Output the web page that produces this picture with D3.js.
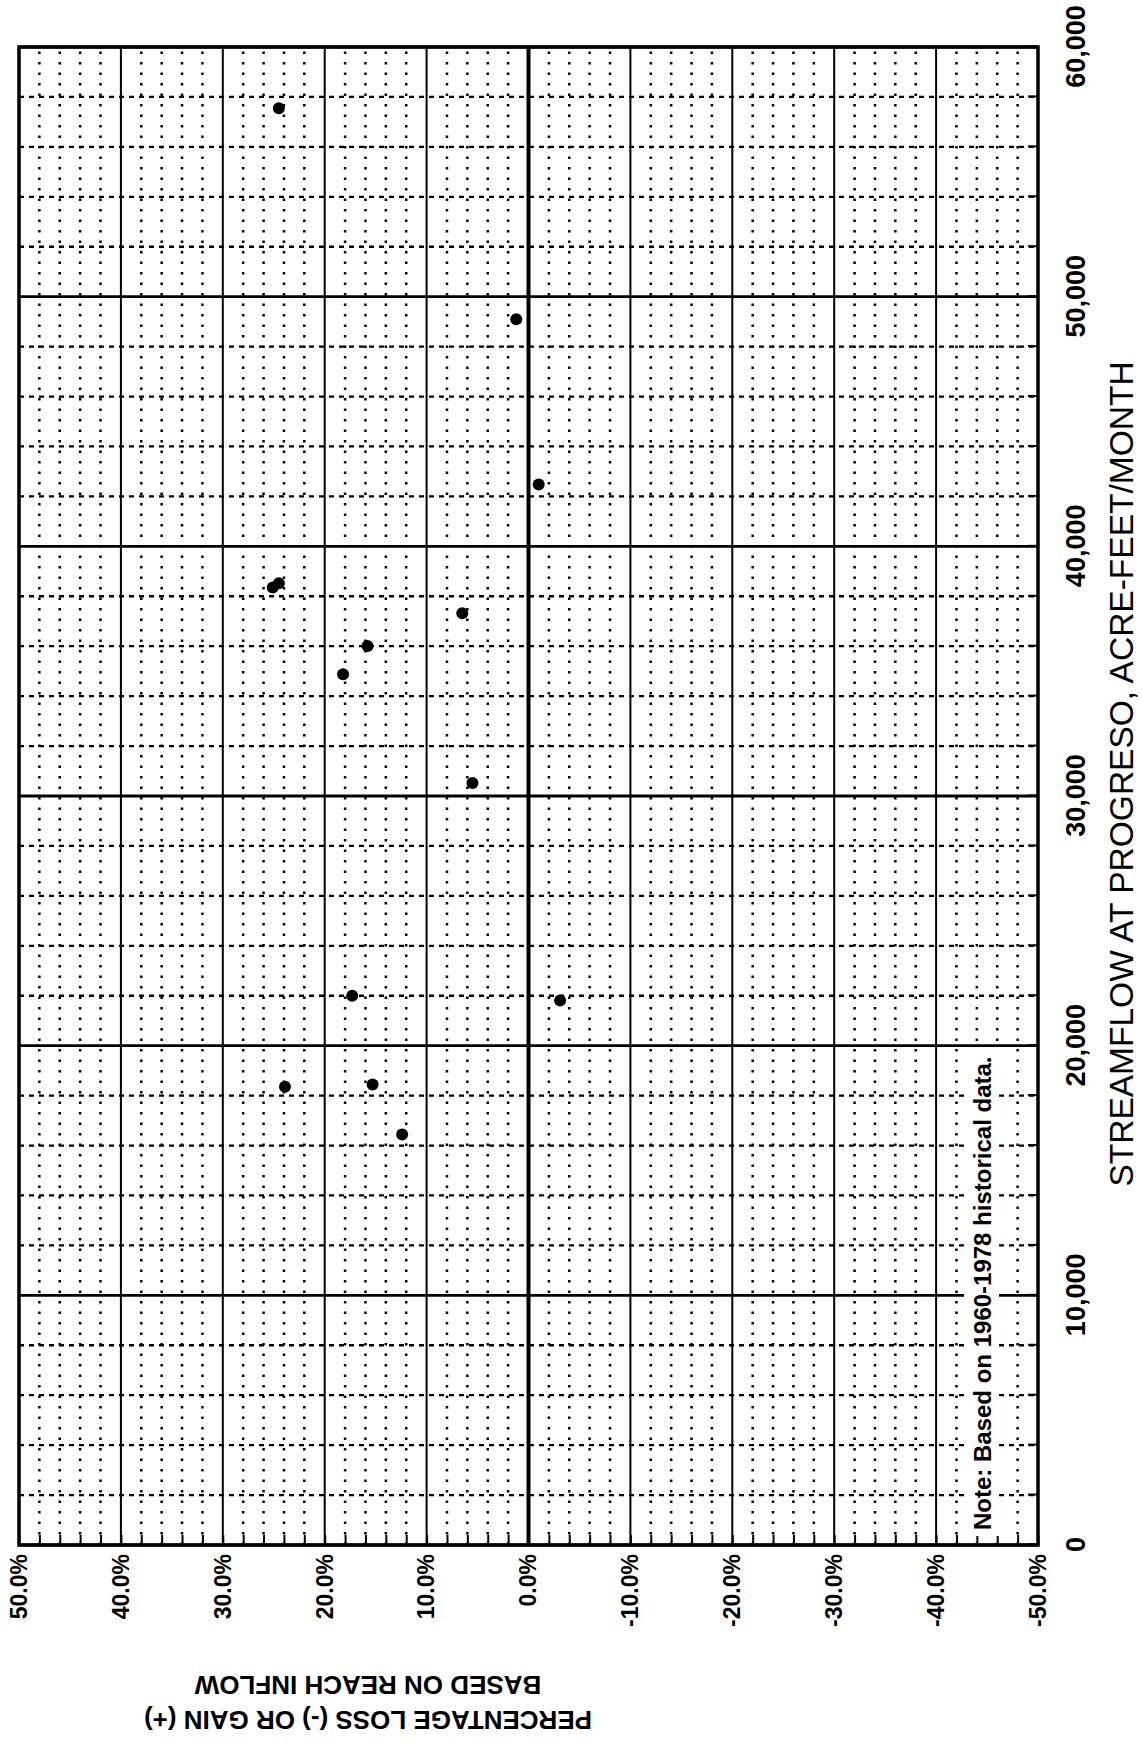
<!DOCTYPE html>
<html>
<head>
<meta charset="utf-8">
<script src="https://cdn.jsdelivr.net/npm/d3@7"></script>
<style>
body { margin: 0; background: #fff; }
svg { display: block; }
text { font-family: "Liberation Sans", Arial, sans-serif; fill: #000; }
</style>
</head>
<body>
<svg id="chart" width="1142" height="1753"></svg>
<script>
// streamflow at Progreso (acre-feet/month) and percent loss/gain, 1960-1978
var flows = [57550, 49100, 42480, 38350, 38520, 37320, 36010, 34880, 30520, 22000, 21810, 18350, 18440, 16440];
var pcts  = [24.5, 1.2, -1.0, 25.1, 24.5, 6.5, 15.8, 18.2, 5.5, 17.3, -3.1, 23.9, 15.3, 12.4];

var flowTicks = [0, 10000, 20000, 30000, 40000, 50000, 60000];
var pctTicks = [50, 40, 30, 20, 10, 0, -10, -20, -30, -40, -50];
var flowMinor = d3.range(0, 60001, 2000);
var pctMinor = d3.range(-50, 51, 2);

var W = 1142, H = 1753;
var svg = d3.select("#chart");

// the sheet was scanned turned a quarter turn, so draw it upright and rotate
var g = svg.append("g").attr("transform", "translate(0," + H + ") rotate(-90)");

var pLeft = 208, pRight = 1706, pTop = 19, pBottom = 1038;
var x = d3.scaleLinear().domain([0, 60000]).range([pLeft, pRight]);
var y = d3.scaleLinear().domain([-50, 50]).range([pBottom, pTop]);

// minor grid
g.selectAll("line.fminor")
    .data(flowMinor.filter(function (d) { return d % 10000 !== 0; }))
    .enter().append("line")
    .attr("x1", function (d) { return x(d); })
    .attr("x2", function (d) { return x(d); })
    .attr("y1", pTop).attr("y2", pBottom)
    .attr("stroke", "#000").attr("stroke-width", 2.3)
    .attr("stroke-dasharray", "5 5");

g.selectAll("line.pminor")
    .data(pctMinor.filter(function (d) { return d % 10 !== 0; }))
    .enter().append("line")
    .attr("y1", function (d) { return y(d); })
    .attr("y2", function (d) { return y(d); })
    .attr("x1", pLeft).attr("x2", pRight)
    .attr("stroke", "#000").attr("stroke-width", 2.5)
    .attr("stroke-dasharray", "2.5 8");

// major grid
g.selectAll("line.fmajor")
    .data(flowTicks)
    .enter().append("line")
    .attr("x1", function (d) { return x(d); })
    .attr("x2", function (d) { return x(d); })
    .attr("y1", pTop).attr("y2", pBottom)
    .attr("stroke", "#000").attr("stroke-width", 2.8);

g.selectAll("line.pmajor")
    .data(pctTicks)
    .enter().append("line")
    .attr("y1", function (d) { return y(d); })
    .attr("y2", function (d) { return y(d); })
    .attr("x1", pLeft).attr("x2", pRight)
    .attr("stroke", "#000")
    .attr("stroke-width", function (d) { return d === 0 ? 4 : 2; });

// axes
var xAxis = g.append("g")
    .attr("transform", "translate(0," + pBottom + ")")
    .call(d3.axisBottom(x).tickValues(flowTicks).tickSize(0).tickPadding(28).tickFormat(d3.format(",")));
xAxis.selectAll("text").style("font-size", "27px").style("font-weight", "bold");

g.append("g")
    .attr("transform", "translate(0," + pBottom + ")")
    .call(d3.axisBottom(x).tickValues(flowMinor).tickSize(-10).tickFormat(""))
    .selectAll("line").attr("stroke-width", 2);

var yAxis = g.append("g")
    .attr("transform", "translate(" + pLeft + ",0)")
    .call(d3.axisLeft(y).tickValues(pctTicks).tickSize(0).tickPadding(9)
        .tickFormat(function (d) { return d.toFixed(1) + "%"; }));
yAxis.selectAll("text").style("font-size", "23px").style("font-weight", "bold");

g.append("g")
    .attr("transform", "translate(" + pLeft + ",0)")
    .call(d3.axisLeft(y).tickValues(pctMinor).tickSize(-10).tickFormat(""))
    .selectAll("line").attr("stroke-width", 2);

g.selectAll(".domain").remove();

// note with a blank patch behind it
var note = g.append("text")
    .attr("x", x(0) + 15)
    .attr("y", y(-45) + 4)
    .style("font-size", "24px")
    .style("font-weight", "bold")
    .text("Note: Based on 1960-1978 historical data.");
var nb = note.node().getBBox();
g.insert("rect", function () { return note.node(); })
    .attr("x", nb.x - 6).attr("y", nb.y - 5)
    .attr("width", nb.width + 14).attr("height", nb.height + 8)
    .attr("fill", "#fff");

// frame
g.append("rect")
    .attr("x", pLeft).attr("y", pTop)
    .attr("width", pRight - pLeft).attr("height", pBottom - pTop)
    .attr("fill", "none").attr("stroke", "#000").attr("stroke-width", 3.5);

// points
g.selectAll("circle")
    .data(flows)
    .enter().append("circle")
    .attr("cx", function (d) { return x(d); })
    .attr("cy", function (d, i) { return y(pcts[i]); })
    .attr("r", 6)
    .attr("fill", "#000");

// axis titles
g.append("text")
    .attr("x", (pLeft + pRight) / 2 + 22)
    .attr("y", 1133)
    .attr("text-anchor", "middle")
    .style("font-size", "33.5px")
    .text("STREAMFLOW AT PROGRESO, ACRE-FEET/MONTH");

var yt = g.append("text")
    .attr("transform", "translate(42,368) rotate(-90)")
    .attr("text-anchor", "middle")
    .style("font-size", "26px")
    .style("font-weight", "bold");
yt.append("tspan").attr("x", 0).attr("dy", 0).text("PERCENTAGE LOSS (-) OR GAIN (+)");
yt.append("tspan").attr("x", 0).attr("dy", "1.35em").text("BASED ON REACH INFLOW");
</script>
</body>
</html>
